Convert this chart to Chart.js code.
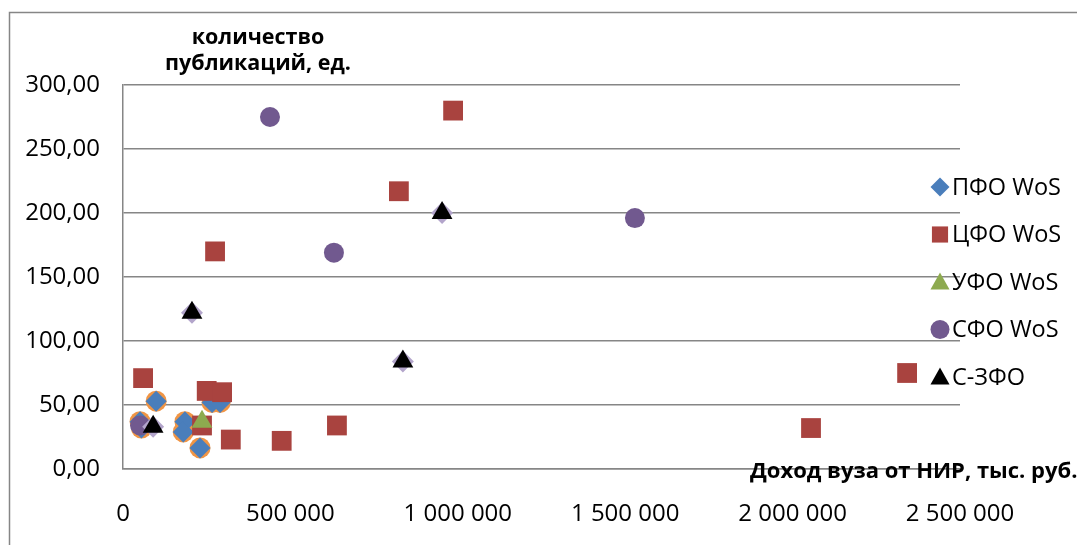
<!DOCTYPE html>
<html><head><meta charset="utf-8">
<script src="https://cdn.jsdelivr.net/npm/chart.js@4.4.1/dist/chart.umd.min.js"></script>
<style>html,body{margin:0;padding:0;background:#fff;}#wrap{width:1077px;height:545px;position:relative;}</style>
</head><body><div id="wrap"><canvas id="c" width="1077" height="545"></canvas></div>
<script>
const seriesNames = ['ПФО WoS', 'ЦФО WoS', 'УФО WoS', 'СФО WoS', 'С-ЗФО'];
// ПФО WoS
const pfoX = [51000, 55000, 99000, 185000, 180000, 230000, 266000, 290000];
const pfoY = [37, 32, 53, 37, 29, 16.5, 52, 52];
// ЦФО WoS
const cfoX = [60000, 986000, 824000, 275000, 2342000, 2055000, 639000, 474000, 322000, 250000, 296000, 236000];
const cfoY = [71, 280, 217, 170, 75, 32, 34, 22, 23, 61, 60, 34];
// УФО WoS
const ufoX = [236000];
const ufoY = [37];
// СФО WoS
const sfoX = [439000, 630000, 1529000, 51000];
const sfoY = [275, 169, 196, 34];
// С-ЗФО
const szfoX = [206000, 953000, 836000, 90000];
const szfoY = [122, 200, 84, 33];

const xTickValues = [0, 500000, 1000000, 1500000, 2000000, 2500000];
const yTickValues = [0, 50, 100, 150, 200, 250, 300];
const yTitleLines = ['количество', 'публикаций, ед.'];
const xTitleText = 'Доход вуза от НИР, тыс. руб.';

const colors = {
  pfo: '#4A7EBB', cfo: '#A9433F', ufo: '#8DAA4F', sfo: '#71598F', szfo: '#000000',
  orange: '#F09545', lavender: '#B3A5CB'
};
const FONT = '"Open Sans", "Noto Sans", sans-serif';

function pts(xs, ys) { return xs.map((x, i) => ({ x: x, y: ys[i] })); }

const datasets = [
  { label: seriesNames[4], data: pts(szfoX, szfoY), pointStyle: 'triangle', pointRadius: 12, backgroundColor: colors.szfo, borderColor: colors.szfo, borderWidth: 0, order: 0 },
  { label: '_lav', data: pts(szfoX, szfoY), pointStyle: 'rectRot', pointRadius: 11, backgroundColor: colors.lavender, borderColor: colors.lavender, borderWidth: 0, order: 1 },
  { label: seriesNames[3], data: pts(sfoX, sfoY), pointStyle: 'circle', pointRadius: 10, backgroundColor: colors.sfo, borderColor: colors.sfo, borderWidth: 0, order: 2 },
  { label: seriesNames[2], data: pts(ufoX, ufoY), pointStyle: 'triangle', pointRadius: 12, backgroundColor: colors.ufo, borderColor: colors.ufo, borderWidth: 0, order: 3 },
  { label: seriesNames[1], data: pts(cfoX, cfoY), pointStyle: 'rect', pointRadius: 14, backgroundColor: colors.cfo, borderColor: colors.cfo, borderWidth: 0, order: 4 },
  { label: seriesNames[0], data: pts(pfoX, pfoY), pointStyle: 'rectRot', pointRadius: 10.5, backgroundColor: colors.pfo, borderColor: colors.pfo, borderWidth: 0, order: 5 },
  { label: '_orange', data: pts(pfoX, pfoY), pointStyle: 'circle', pointRadius: 10.5, backgroundColor: colors.orange, borderColor: colors.orange, borderWidth: 0, order: 6 }
];

const legendItems = [
  { name: seriesNames[0], shape: 'diamond', color: colors.pfo },
  { name: seriesNames[1], shape: 'square', color: colors.cfo },
  { name: seriesNames[2], shape: 'triangle', color: colors.ufo },
  { name: seriesNames[3], shape: 'circle', color: colors.sfo },
  { name: seriesNames[4], shape: 'triangle', color: colors.szfo }
];

function drawShape(ctx, shape, x, y, r) {
  ctx.beginPath();
  if (shape === 'diamond') {
    ctx.moveTo(x, y - r); ctx.lineTo(x + r, y); ctx.lineTo(x, y + r); ctx.lineTo(x - r, y);
  } else if (shape === 'square') {
    ctx.rect(x - r * 0.85, y - r * 0.85, r * 1.7, r * 1.7);
  } else if (shape === 'triangle') {
    ctx.moveTo(x, y - r); ctx.lineTo(x + r, y + r * 0.8); ctx.lineTo(x - r, y + r * 0.8);
  } else {
    ctx.arc(x, y, r, 0, Math.PI * 2);
  }
  ctx.closePath();
  ctx.fill();
}

const decor = {
  id: 'decor',
  beforeDraw(chart) {
    const ctx = chart.ctx;
    ctx.save();
    ctx.fillStyle = '#fff';
    ctx.fillRect(0, 0, chart.width, chart.height);
    ctx.strokeStyle = '#868686';
    ctx.lineWidth = 1.5;
    ctx.strokeRect(9.5, 12.5, chart.width + 20, chart.height + 20);
    ctx.restore();
  },
  afterDraw(chart) {
    const ctx = chart.ctx;
    const area = chart.chartArea;
    ctx.save();
    // axis titles
    ctx.fillStyle = '#000';
    ctx.font = 'bold 21.5px ' + FONT;
    ctx.textAlign = 'center';
    ctx.textBaseline = 'alphabetic';
    ctx.fillText(yTitleLines[0], 258, 44);
    ctx.fillText(yTitleLines[1], 258, 70);
    ctx.textAlign = 'left';
    ctx.font = 'bold 22px ' + FONT;
    ctx.fillText(xTitleText, 750, area.bottom + 9);
    // legend
    ctx.font = '23.5px ' + FONT;
    ctx.textBaseline = 'middle';
    legendItems.forEach((it, i) => {
      const y = 187 + i * 47.5;
      ctx.fillStyle = it.color;
      drawShape(ctx, it.shape, 940, y, 9.5);
      ctx.fillStyle = '#000';
      ctx.fillText(it.name, 952, y + 1);
    });
    ctx.restore();
  }
};

new Chart(document.getElementById('c'), {
  type: 'scatter',
  data: { datasets: datasets },
  options: {
    responsive: false,
    animation: false,
    devicePixelRatio: 1,
    layout: { padding: { left: 0, top: 85, right: 117, bottom: 0 } },
    plugins: { legend: { display: false }, tooltip: { enabled: false } },
    scales: {
      x: {
        type: 'linear', min: 0, max: 2500000,
        afterBuildTicks: (s) => { s.ticks = xTickValues.map(v => ({ value: v })); },
        afterFit: (s) => { s.height = 76; },
        grid: { display: false, drawTicks: false },
        border: { display: true, color: '#868686', width: 1.5 },
        ticks: {
          padding: 31, color: '#000', font: { family: FONT, size: 24 },
          maxRotation: 0, autoSkip: false,
          callback: (v) => String(v).replace(/\B(?=(\d{3})+(?!\d))/g, ' ')
        }
      },
      y: {
        type: 'linear', min: 0, max: 300,
        afterBuildTicks: (s) => { s.ticks = yTickValues.map(v => ({ value: v })); },
        afterFit: (s) => { s.width = 123; },
        grid: { display: true, drawTicks: false, color: '#868686', lineWidth: 1.5 },
        border: { display: true, color: '#868686', width: 1.5 },
        ticks: {
          padding: 23, color: '#000', font: { family: FONT, size: 24 },
          callback: (v) => Number(v).toFixed(2).replace('.', ',')
        }
      }
    }
  },
  plugins: [decor]
});
</script>
</body></html>
